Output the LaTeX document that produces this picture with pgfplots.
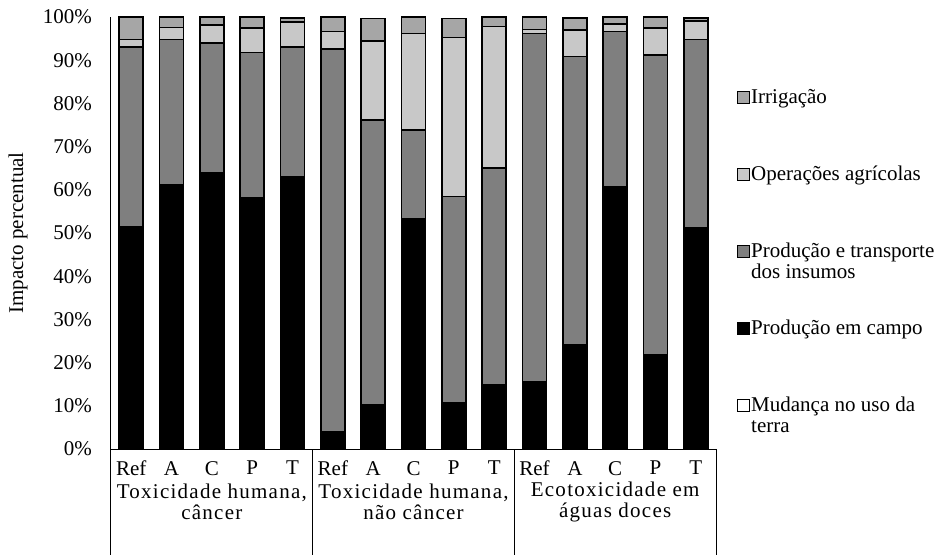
\documentclass[border=0pt]{standalone}
\usepackage{pgfplots}
\pgfplotsset{compat=1.18}
\usepackage{pgfplotstable}
\usepackage{fontspec}
\setmainfont{Liberation Serif}

\definecolor{cIrrig}{HTML}{A6A6A6}
\definecolor{cOper}{HTML}{C8C8C8}
\definecolor{cInsumo}{HTML}{7F7F7F}

% parcelas de cada barra (%), na ordem de empilhamento
\pgfplotstableread{
idx uso campo insumos oper irrig
0  0 51.5 41.6  1.7 5.2
1  0 61.2 33.6  2.8 2.4
2  0 63.9 30.1  4.1 1.9
3  0 58.2 33.6  5.7 2.5
4  0 63.0 30.0  5.8 1.0
5  0  4.0 88.6  4.1 3.3
6  0 10.3 65.9 18.2 5.3
7  0 53.2 20.7 22.3 3.8
8  0 10.7 47.7 36.9 4.4
9  0 14.8 50.2 32.8 2.2
10 0 15.6 80.6  0.9 2.9
11 0 24.1 66.8  6.1 2.8
12 0 60.7 35.9  1.8 1.6
13 0 21.9 69.3  6.3 2.5
14 0 51.1 43.7  4.3 0.7
}\dados

\begin{document}
\fontsize{21}{21}\selectfont
\begin{tikzpicture}
\useasboundingbox (0,0) rectangle (939pt,555pt);
\begin{axis}[
  at={(111pt,106pt)}, anchor=south west,
  width=605pt, height=432pt, scale only axis,
  ybar stacked, bar width=24pt,
  xmin=-0.5, xmax=14.5, ymin=0, ymax=100,
  clip=false,
  axis x line*=bottom, axis y line*=left,
  axis line style={-, black, line width=1pt},
  major tick length=0pt,
  xtick={0,...,14},
  xticklabels={Ref,A,C,P,T,Ref,A,C,P,T,Ref,A,C,P,T},
  ytick={0,10,...,100},
  yticklabel={\pgfmathprintnumber{\tick}\%},
  /pgf/number format/assume math mode=true,
  yticklabel style={xshift=-12pt},
  xticklabel style={yshift=-5pt},
  every axis y label/.style={at={(axis description cs:0,0.5)}, xshift=-93pt, rotate=90, anchor=center},
  ylabel={Impacto percentual},
  every axis plot/.append style={draw=black, line width=1.5pt},
  reverse legend,
  legend cell align=left,
  legend image code/.code={\draw[#1, line width=1pt] (0pt,22.5pt) rectangle (12pt,34.5pt);},
  legend style={at={(axis description cs:1,1)}, anchor=north west,
    xshift=21pt, yshift=-70pt, draw=none, fill=none, inner sep=0pt,
    row sep=0pt,
    nodes={inner sep=1pt, text height=15pt, text depth=60pt}},
]
\addplot[fill=white] table[x=idx, y=uso] {\dados};
\addlegendentry{\begin{tabular}[t]{@{}l@{}}Mudança no uso da\\terra\end{tabular}}
\addplot[fill=black] table[x=idx, y=campo] {\dados};
\addlegendentry{Produção em campo}
\addplot[fill=cInsumo] table[x=idx, y=insumos] {\dados};
\addlegendentry{\begin{tabular}[t]{@{}l@{}}Produção e transporte\\dos insumos\end{tabular}}
\addplot[fill=cOper] table[x=idx, y=oper] {\dados};
\addlegendentry{Operações agrícolas}
\addplot[fill=cIrrig] table[x=idx, y=irrig] {\dados};
\addlegendentry{Irrigação}

% linhas da tabela de categorias abaixo do eixo
\draw[black, line width=1pt] (axis cs:-0.5,0) -- ++(0pt,-106pt);
\draw[black, line width=1pt] (axis cs:4.5,0) -- ++(0pt,-106pt);
\draw[black, line width=1pt] (axis cs:9.5,0) -- ++(0pt,-106pt);
\draw[black, line width=1pt] (axis cs:14.5,0) -- ++(0pt,-106pt);

\node[align=center, font=\addfontfeature{LetterSpace=6}] at (axis cs:2,0) [yshift=-53pt] {Toxicidade humana,\\câncer};
\node[align=center, font=\addfontfeature{LetterSpace=6}] at (axis cs:7,0) [yshift=-53pt] {Toxicidade humana,\\não câncer};
\node[align=center, font=\addfontfeature{LetterSpace=6}] at (axis cs:12,0) [yshift=-53pt] {Ecotoxicidade em\\águas doces};
\end{axis}
\end{tikzpicture}
\end{document}
